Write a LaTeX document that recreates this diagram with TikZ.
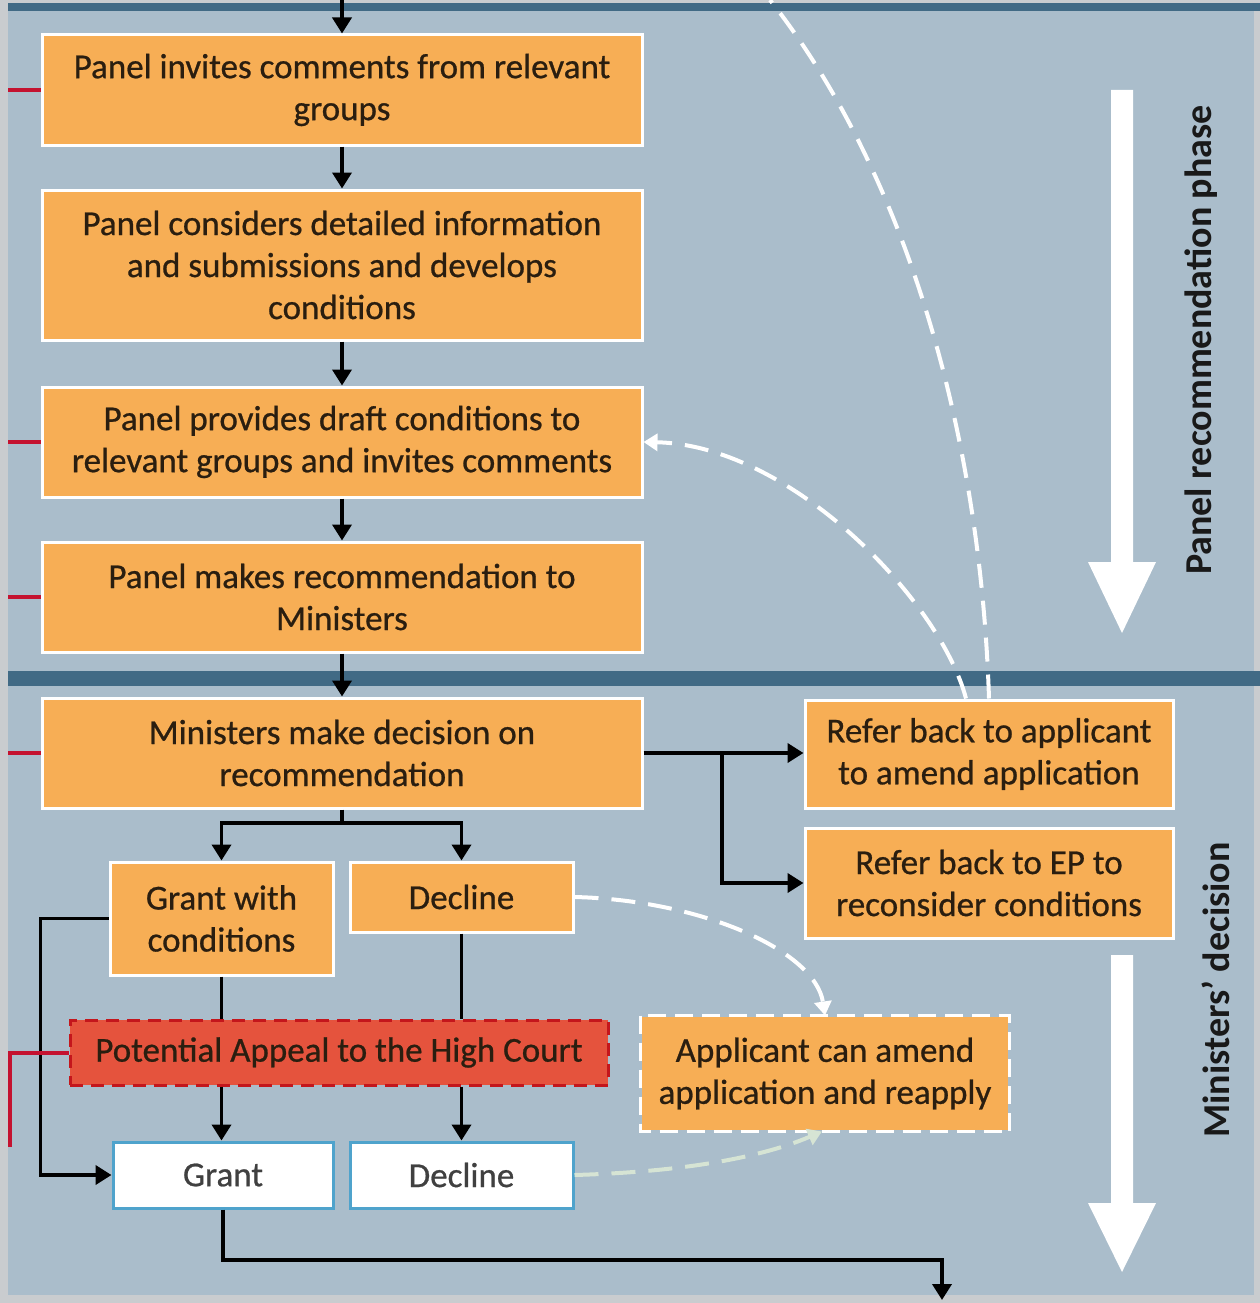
\documentclass[tikz,border=0pt]{standalone}
\usepackage{fontspec}
\setmainfont{Carlito}
\newfontfamily\boxfont{Carlito}[FakeBold=0.7]
\usetikzlibrary{arrows.meta}
\definecolor{bg}{HTML}{AABDCB}
\definecolor{frameC}{HTML}{C9CCCF}
\definecolor{band}{HTML}{416A85}
\definecolor{orangeC}{HTML}{F7AE55}
\definecolor{txt}{HTML}{2A1E10}
\definecolor{redfill}{HTML}{E5533D}
\definecolor{redline}{HTML}{C4161C}
\definecolor{tickC}{HTML}{C41230}
\definecolor{blueC}{HTML}{4FA3CC}
\definecolor{paleC}{HTML}{D6E4D4}
\tikzset{
  boxtext/.style={font=\boxfont\fontsize{35}{42}\selectfont},
  box/.style={draw=white, line width=3pt, fill=orangeC, text=txt, align=center,
    inner sep=0pt, boxtext},
  outbox/.style={draw=blueC, line width=3pt, fill=white, text=black!75, align=center,
    inner sep=0pt, boxtext},
  flow/.style={draw=black, line width=3.8pt, -{Triangle[width=19pt,length=16pt]}},
  plain/.style={draw=black, line width=3.8pt},
  tick/.style={draw=tickC, line width=4pt},
  loop/.style={draw=white, line width=4pt, dash pattern=on 24pt off 13pt},
  phase/.style={font=\bfseries\fontsize{38}{44}\selectfont, text=black!90, rotate=90}
}
\begin{document}
\begin{tikzpicture}[x=1pt,y=-1pt]
\useasboundingbox (0,0) rectangle (1260,1303);
\begin{scope}
\clip (0,0) rectangle (1260,1303);
% canvas and frame
\fill[frameC] (0,0) rectangle (1260,1303);
\fill[bg] (8,3) rectangle (1254,1295);
\fill[band] (8,3) rectangle (1260,11);
\fill[band] (8,671) rectangle (1260,686);

% phase arrows
\fill[white] (1111,90) -- (1133,90) -- (1133,562) -- (1156,562) -- (1122,633)
  -- (1088,562) -- (1111,562) -- cycle;
\fill[white] (1111,955) -- (1133,955) -- (1133,1203) -- (1156,1203) -- (1122,1272)
  -- (1088,1203) -- (1111,1203) -- cycle;
\node[phase] (ph1) at (1201,340) {Panel recommendation phase};
\node[phase] (ph2) at (1216,990) {Ministers' decision};

% process boxes
\node[box, minimum width=600pt, minimum height=110pt] (b1) at (342,90)
  {Panel invites comments from relevant\\groups};
\node[box, minimum width=600pt, minimum height=150pt] (b2) at (342,265)
  {Panel considers detailed information\\and submissions and develops\\conditions};
\node[box, minimum width=600pt, minimum height=110pt] (b3) at (342,442)
  {Panel provides draft conditions to\\relevant groups and invites comments};
\node[box, minimum width=600pt, minimum height=110pt] (b4) at (342,597)
  {Panel makes recommendation to\\Ministers};
\node[box, minimum width=600pt, minimum height=110pt] (b5) at (342,753)
  {Ministers make decision on\\recommendation};
\node[box, minimum width=368pt, minimum height=108pt] (r1) at (989,754)
  {Refer back to applicant\\to amend application};
\node[box, minimum width=368pt, minimum height=110pt] (r2) at (989,883)
  {Refer back to EP to\\reconsider conditions};
\node[box, minimum width=223pt, minimum height=113pt] (gwc) at (221.5,918.5)
  {Grant with\\conditions};
\node[box, minimum width=223pt, minimum height=70pt] (dec1) at (461.5,897)
  {Decline};
\node[box, draw=none, minimum width=366pt, minimum height=113pt] (amend) at (825,1073.5)
  {Applicant can amend\\application and reapply};
\draw[white, line width=3pt, dash pattern=on 18pt off 9pt]
  (amend.north west) rectangle (amend.south east);
\node[fill=redfill, draw=redline, line width=3pt, dash pattern=on 13pt off 8pt,
  text=txt, inner sep=0pt, minimum width=538pt, minimum height=65pt,
  boxtext] (appeal) at (339,1052.5)
  {Potential Appeal to the High Court};
\node[outbox, minimum width=220pt, minimum height=66pt] (grant) at (223,1175) {Grant};
\node[outbox, minimum width=223pt, minimum height=66pt] (dec2) at (461.5,1175) {Decline};

% loop-back paths
\coordinate (topexit) at (770,0);
\coordinate (r1a) at (989,0);
\coordinate (r1b) at (966,0);
\coordinate (amb) at (822,0);
\draw[loop] (r1.north -| r1a) .. controls (980,420) and (900,165) .. (topexit);
\draw[loop, -{Triangle[width=17pt,length=14pt,fill=white]}]
  (r1.north -| r1b) .. controls (940,600) and (790,445) .. (b3.east);
\draw[loop, -{Triangle[width=17pt,length=14pt,fill=white]}]
  (dec1.east) .. controls (700,900) and (815,950) .. (amend.north);
\draw[loop, draw=paleC, -{Triangle[width=17pt,length=14pt,fill=paleC]}]
  (dec2.east) .. controls (680,1172) and (760,1158) .. (amend.south -| amb);

% main flow
\coordinate (entry) at (342,0);
\draw[flow] (entry) -- (b1.north);
\draw[flow] (b1) -- (b2);
\draw[flow] (b2) -- (b3);
\draw[flow] (b3) -- (b4);
\draw[flow] (b4) -- (b5);
\coordinate (split) at (342,823);
\draw[plain] (b5.south) -- (split);
\draw[flow] (split) -| (gwc.north);
\draw[flow] (split) -| (dec1.north);
\coordinate (fork) at (722,753);
\draw[flow] (b5.east) -- (r1.west |- b5.east);
\draw[flow] (fork) |- (r2.west);
\draw[plain] (gwc.south) -- (gwc.south |- appeal.north);
\draw[flow] (gwc.south |- appeal.south) -- (gwc.south |- grant.north);
\draw[plain] (dec1.south) -- (dec1.south |- appeal.north);
\draw[flow] (dec1.south |- appeal.south) -- (dec2.north);
\draw[flow] (gwc.west) -- ++(-68,0) |- (grant.west);
\coordinate (turn) at (942,1260);
\coordinate (exitpt) at (942,1300);
\draw[flow] (grant.south) |- (turn) -- (exitpt);

% links to the side column
\coordinate (leftedge) at (8,0);
\foreach \b in {b1,b3,b4,b5}
  \draw[tick] (\b.west) -- (\b.west -| leftedge);
\coordinate (appealfoot) at (10,1147);
\draw[tick] (appeal.west) -| (appealfoot);
\end{scope}
\end{tikzpicture}
\end{document}
